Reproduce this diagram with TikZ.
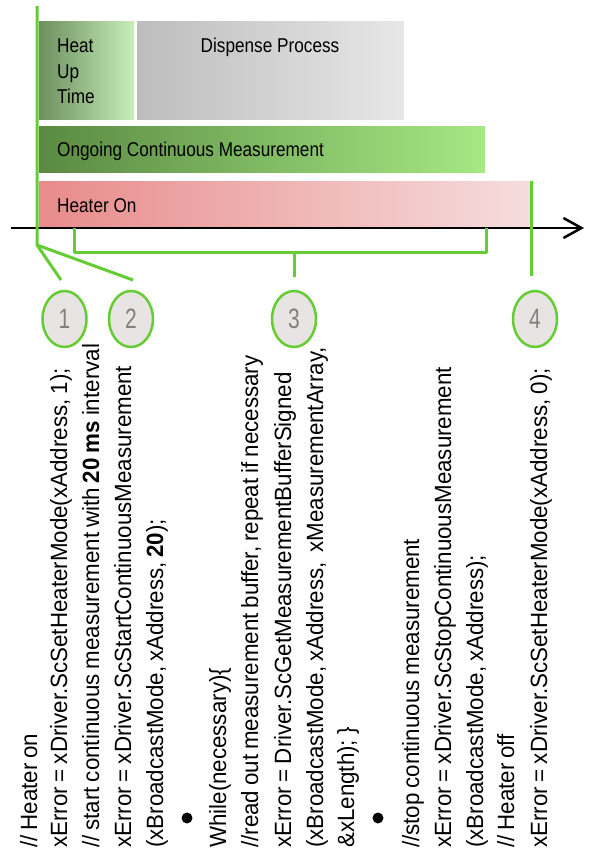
\documentclass[tikz,border=0pt]{standalone}
\usepackage{fontspec}
\setmainfont[FakeStretch=0.86]{Liberation Sans}
\newfontfamily\codefont[FakeStretch=0.95,WordSpace=0.8]{Liberation Sans}
\newfontfamily\numfont[FakeStretch=0.75]{Liberation Sans}
\usetikzlibrary{arrows.meta,shapes.geometric}
\definecolor{lgreen}{RGB}{102,204,51}
\definecolor{heatL}{RGB}{108,143,94}
\definecolor{heatR}{RGB}{199,238,184}
\definecolor{dispL}{RGB}{189,189,189}
\definecolor{dispR}{RGB}{231,231,231}
\definecolor{measL}{RGB}{90,138,66}
\definecolor{measR}{RGB}{166,232,132}
\definecolor{hotL}{RGB}{232,139,139}
\definecolor{hotR}{RGB}{246,221,221}
\definecolor{circfill}{RGB}{232,228,227}
\definecolor{numgray}{RGB}{128,128,128}
\begin{document}
\begin{tikzpicture}[x=1pt,y=-1pt,
  bar/.style={rectangle, draw=none, inner sep=0pt, outer sep=0pt, anchor=north west},
  lbl/.style={inner sep=0pt, anchor=base west, font=\fontsize{20}{24}\selectfont},
  gline/.style={draw=lgreen, line width=3pt, line join=round},
  num/.style={ellipse, draw=lgreen, line width=2.5pt, fill=circfill, minimum width=44pt, minimum height=56pt, inner sep=0pt, text=numgray, font=\numfont\fontsize{28}{28}\selectfont},
  code/.style={rotate=90, anchor=base west, inner sep=0pt, font=\codefont\fontsize{23.5}{28}\selectfont},
  bulletdot/.style={circle, fill=black, minimum size=11pt, inner sep=0pt}
]
\useasboundingbox (0,0) rectangle (592,853);
\fill[white] (0,0) rectangle (592,853);

% bars
\node[bar, left color=heatL, right color=heatR, minimum width=95pt, minimum height=98pt] (heat) at (39,22) {};
\node[bar, left color=dispL, right color=dispR, minimum width=267pt, minimum height=98pt] (disp) at (137,22) {};
\node[bar, left color=measL, right color=measR, minimum width=446pt, minimum height=46pt] (meas) at (39,127) {};
\node[bar, left color=hotL, right color=hotR, minimum width=493pt, minimum height=47pt] (hot) at (39,181) {};

% bar labels
\node[lbl] (t1) at (57,53) {Heat};
\node[lbl] (t2) at (57,78.5) {Up};
\node[lbl] (t3) at (57,104) {Time};
\node[lbl, anchor=base] (t4) at (270,53) {Dispense Process};
\node[lbl] (t5) at (57,157) {Ongoing Continuous Measurement};
\node[lbl] (t6) at (57,212) {Heater On};

% axis
\coordinate (ax0) at (11,228);
\coordinate (ax1) at (584,228);
\draw[line width=2.5pt, -{Straight Barb[length=18pt,width=20pt,line width=2.5pt]}] (ax0) -- (ax1);

% circles
\node[num] (c1) at (64.5,319) {1};
\node[num] (c2) at (131,319) {2};
\node[num] (c3) at (294,319) {3};
\node[num] (c4) at (535,319) {4};

% green connectors
\coordinate (top) at (37,6);
\coordinate (j) at (37,245);
\coordinate (e1) at (61,280);
\coordinate (e2) at (133,280);
\draw[gline] (top) -- (j) -- (e1);
\draw[gline] (j) -- (e2);
\coordinate (b0) at (74,228);
\coordinate (b1) at (74,252);
\coordinate (b2) at (486,252);
\coordinate (b3) at (486,228);
\coordinate (bm) at (294,252);
\coordinate (e3) at (294,277);
\draw[gline] (b0) -- (b1) -- (b2) -- (b3);
\draw[gline] (bm) -- (e3);
\coordinate (f0) at (531,181);
\coordinate (e4) at (531,276);
\draw[gline] (f0) -- (e4);

% code text
\node[code] (l0) at (37,848) {// Heater on};
\node[code] (l1) at (67,848) {xError = xDriver.ScSetHeaterMode(xAddress, 1);};
\node[code] (l2) at (99,848) {// start continuous measurement with \textbf{20 ms} interval};
\node[code] (l3) at (131,848) {xError = xDriver.ScStartContinuousMeasurement};
\node[code] (l4) at (163,848) {(xBroadcastMode, xAddress, \textbf{20});};
\node[bulletdot] (d1) at (187,818) {};
\node[code] (l6) at (226,848) {While(necessary)\{};
\node[code] (l7) at (258,848) {//read out measurement buffer, repeat if necessary};
\node[code] (l8) at (291,848) {xError = Driver.ScGetMeasurementBufferSigned};
\node[code] (l9) at (323,848) {(xBroadcastMode, xAddress,\ \ xMeasurementArray,};
\node[code] (l10) at (354,848) {\&xLength); \}};
\node[bulletdot] (d2) at (378,818) {};
\node[code] (l12) at (419,848) {//stop continuous measurement};
\node[code] (l13) at (451,848) {xError = xDriver.ScStopContinuousMeasurement};
\node[code] (l14) at (483,848) {(xBroadcastMode, xAddress);};
\node[code] (l15) at (514,848) {// Heater off};
\node[code] (l16) at (547,848) {xError = xDriver.ScSetHeaterMode(xAddress, 0);};
\end{tikzpicture}
\end{document}
